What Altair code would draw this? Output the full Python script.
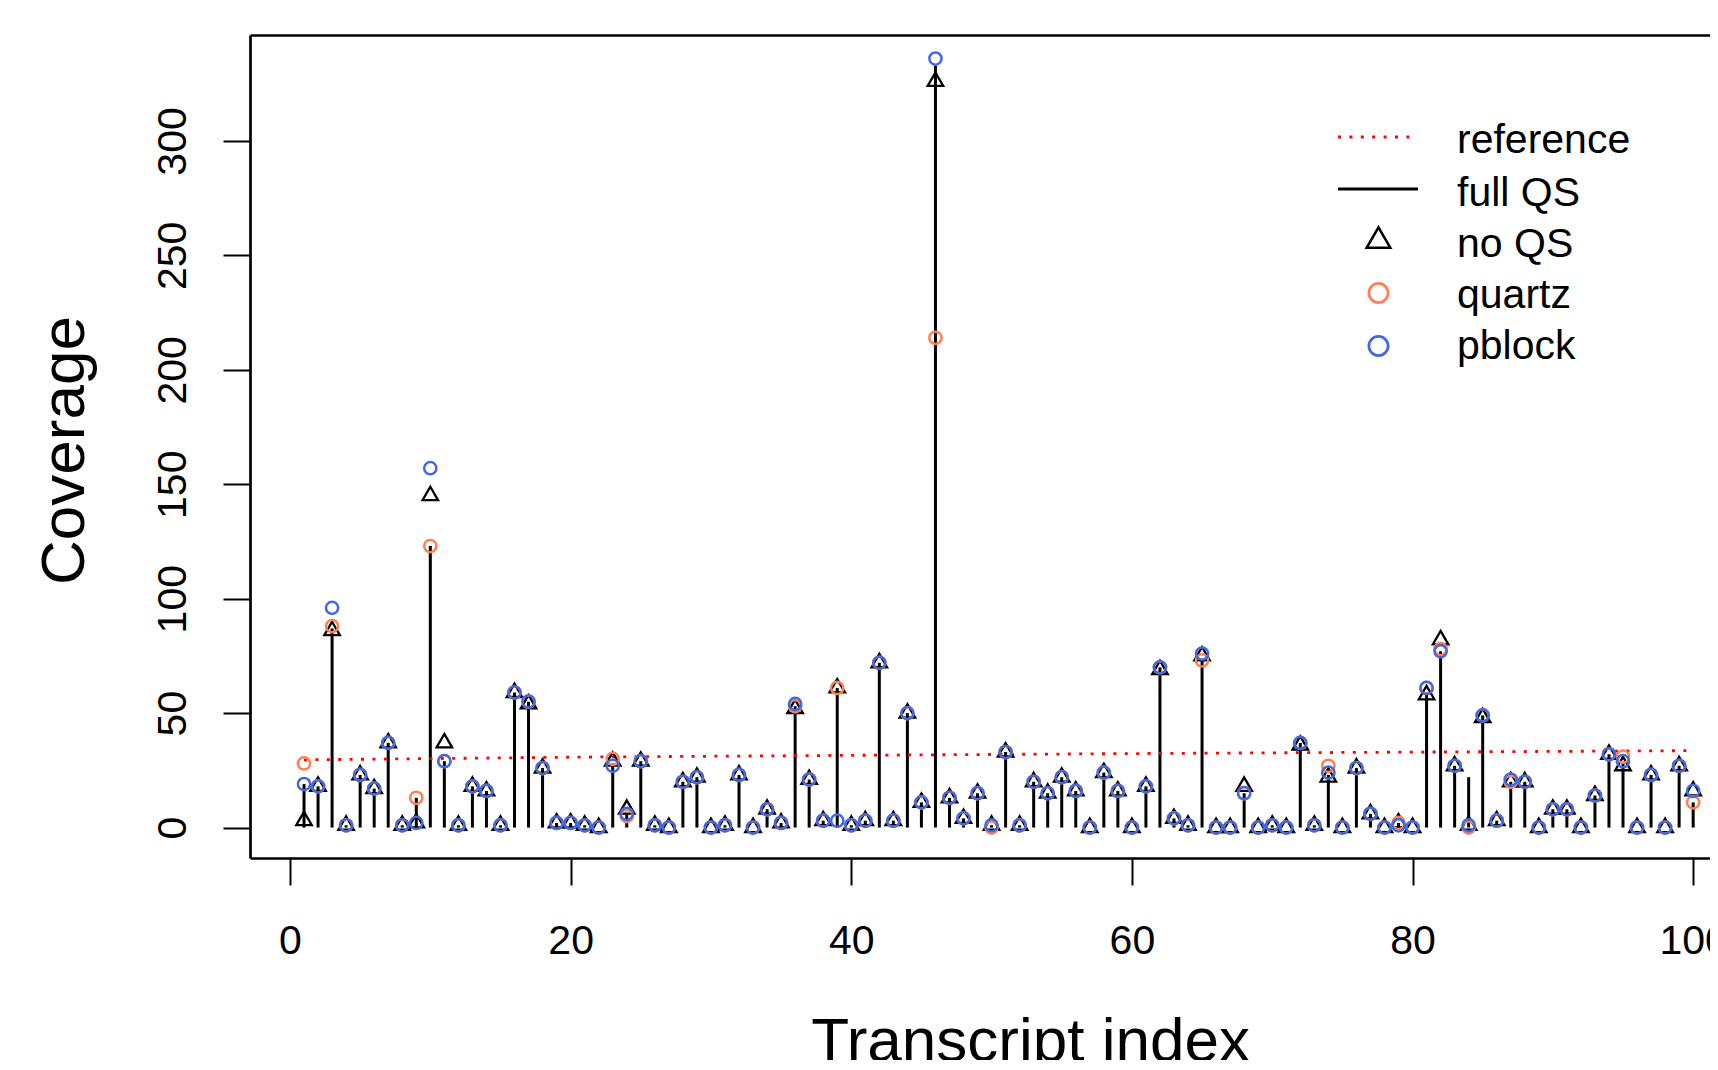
import altair as alt
import pandas as pd

# ---------------- data ----------------
transcript_index = list(range(1, 101))

full_qs = [19, 18, 87, 1, 23, 17, 37, 1, 13, 123,
           29, 1, 18, 16, 1, 59, 55, 26, 2, 2,
           1, 0, 28, 6, 29, 1, 0, 20, 22, 0,
           1, 23, 0, 8, 2, 53, 21, 3, 61, 1,
           3, 72, 3, 50, 11, 333, 13, 4, 15, 1,
           33, 1, 20, 15, 22, 16, 0, 24, 16, 0,
           18, 70, 4, 1, 73, 0, 0, 15, 0, 1,
           0, 37, 1, 23, 0, 26, 6, 0, 2, 0,
           59, 77, 27, 22, 49, 3, 20, 20, 0, 8,
           8, 0, 14, 32, 28, 0, 23, 0, 27, 11]

no_qs = [3, 18, 86, 1, 23, 17, 37, 1, 2, 145,
         37, 1, 18, 16, 1, 59, 54, 26, 2, 2,
         1, 0, 29, 8, 29, 1, 0, 20, 22, 0,
         1, 23, 0, 8, 2, 52, 21, 3, 61, 1,
         3, 72, 3, 50, 11, 326, 13, 4, 15, 1,
         33, 1, 20, 15, 22, 16, 0, 24, 16, 0,
         18, 69, 4, 1, 75, 0, 0, 18, 0, 1,
         0, 36, 1, 22, 0, 26, 6, 0, 2, 0,
         58, 82, 27, 1, 48, 3, 20, 20, 0, 8,
         8, 0, 14, 32, 27, 0, 23, 0, 27, 16]

quartz = [28, 18, 88, 1, 23, 17, 37, 1, 13, 123,
          29, 1, 18, 16, 1, 59, 55, 26, 2, 2,
          1, 0, 30, 5, 29, 1, 0, 20, 22, 0,
          1, 23, 0, 8, 2, 53, 21, 3, 61, 1,
          3, 72, 3, 50, 11, 214, 13, 4, 15, 0,
          33, 1, 20, 15, 22, 16, 0, 24, 16, 0,
          18, 70, 4, 1, 73, 0, 0, 15, 0, 1,
          0, 37, 1, 27, 0, 26, 6, 0, 2, 0,
          61, 78, 27, 0, 49, 3, 20, 20, 0, 8,
          8, 0, 14, 32, 31, 0, 23, 0, 27, 11]

pblock = [19, 18, 96, 1, 23, 17, 37, 1, 2, 157,
          29, 1, 18, 16, 1, 59, 55, 26, 2, 2,
          1, 0, 27, 6, 29, 1, 0, 20, 22, 0,
          1, 23, 0, 8, 2, 54, 21, 3, 3, 1,
          3, 72, 3, 50, 11, 336, 13, 4, 15, 1,
          33, 1, 20, 15, 22, 16, 0, 24, 16, 0,
          18, 70, 4, 1, 76, 0, 0, 15, 0, 1,
          0, 37, 1, 24, 0, 26, 6, 0, 1, 0,
          61, 77, 27, 1, 49, 3, 21, 20, 0, 8,
          8, 0, 14, 32, 29, 0, 23, 0, 27, 16]

reference_index = [1, 21, 41, 62, 100]
reference_values = [29.6, 30.8, 31.6, 32.4, 33.6]

x_ticks = [0, 20, 40, 60, 80, 100]
y_ticks = [0, 50, 100, 150, 200, 250, 300]
legend_labels = ["reference", "full QS", "no QS", "quartz", "pblock"]

# ---------------- styling ----------------
FONT = "Liberation Sans"
ORANGE = "#FF7F50"
BLUE = "#4169E1"
TRI = "M0,-1.1547L1,0.5774L-1,0.5774Z"

df = pd.DataFrame({"idx": transcript_index, "full": full_qs, "noqs": no_qs,
                   "quartz": quartz, "pblock": pblock})
ref_df = pd.DataFrame({"idx": reference_index, "ref": reference_values})
one = pd.DataFrame({"k": [0]})

xscale = alt.Scale(domain=[-2.85, 101.2], nice=False, zero=False)
yscale = alt.Scale(domain=[-13.3, 346.3], nice=False, zero=False)

x_axis = alt.Axis(values=x_ticks, format="d", title="Transcript index",
                  labelFontSize=41, labelFont=FONT, labelColor="black",
                  labelBaseline="alphabetic", labelPadding=68, labelFlush=False,
                  labelOverlap=False, labelBound=False,
                  tickSize=27, tickWidth=2, tickColor="black",
                  domainWidth=2.7, domainColor="black",
                  titleFontSize=62, titleFont=FONT, titleFontWeight="normal",
                  titleColor="black", titleX=780, titleY=202,
                  titleAlign="center", titleBaseline="alphabetic", grid=False)

y_axis = alt.Axis(values=y_ticks, format="d", title="Coverage",
                  labelFontSize=41, labelFont=FONT, labelColor="black",
                  labelAngle=270, labelAlign="center", labelBaseline="alphabetic",
                  labelPadding=38, labelOverlap=False, labelBound=False,
                  labelFlush=False,
                  tickSize=27, tickWidth=2, tickColor="black",
                  domainWidth=2.7, domainColor="black",
                  titleFontSize=62, titleFont=FONT, titleFontWeight="normal",
                  titleColor="black", titleAngle=270, titleX=-167, titleY=415,
                  titleAlign="center", titleBaseline="alphabetic", grid=False)

top_axis = alt.Axis(orient="top", ticks=False, labels=False, title=None,
                    domainWidth=2.7, domainColor="black", grid=False)

stems = alt.Chart(df).mark_rule(color="black", strokeWidth=3).encode(
    x=alt.X("idx:Q", scale=xscale, axis=x_axis),
    y=alt.Y("full:Q", scale=yscale, axis=y_axis),
    y2=alt.datum(0),
)

ref_line = alt.Chart(ref_df).mark_line(color="red", strokeWidth=2.8,
                                       strokeDash=[3, 8.4]).encode(
    x=alt.X("idx:Q", scale=xscale, axis=top_axis),
    y=alt.Y("ref:Q", scale=yscale, axis=None),
)

tri = alt.Chart(df).mark_point(shape=TRI, filled=False, color="black",
                               size=240, strokeWidth=2.3, opacity=1).encode(
    x=alt.X("idx:Q", scale=xscale, axis=None),
    y=alt.Y("noqs:Q", scale=yscale, axis=None),
)

orange_pts = alt.Chart(df).mark_point(shape="circle", filled=False, color=ORANGE,
                                      size=150, strokeWidth=2.5, opacity=1).encode(
    x=alt.X("idx:Q", scale=xscale, axis=None),
    y=alt.Y("quartz:Q", scale=yscale, axis=None),
)

blue_pts = alt.Chart(df).mark_point(shape="circle", filled=False, color=BLUE,
                                    size=150, strokeWidth=2.5, opacity=1).encode(
    x=alt.X("idx:Q", scale=xscale, axis=None),
    y=alt.Y("pblock:Q", scale=yscale, axis=None),
)

# ---------------- legend (drawn manually, R style) ----------------
LX_TEXT = 1207
LX_SYM = 1128.5
text_y = [118, 171, 222, 273, 324]
sym_y = [102, 154, 206, 258, 311]

legend_layers = []
for lab, ty in zip(legend_labels, text_y):
    legend_layers.append(
        alt.Chart(one).mark_text(align="left", baseline="alphabetic", fontSize=41,
                                 font=FONT, color="black").encode(
            x=alt.value(LX_TEXT), y=alt.value(ty), text=alt.value(lab))
    )

legend_layers.append(
    alt.Chart(one).mark_rule(color="red", strokeWidth=2.8, strokeDash=[3, 8.4]).encode(
        x=alt.value(1088), x2=alt.value(1160), y=alt.value(sym_y[0]))
)
legend_layers.append(
    alt.Chart(one).mark_rule(color="black", strokeWidth=3).encode(
        x=alt.value(1088), x2=alt.value(1168), y=alt.value(sym_y[1]))
)
legend_layers.append(
    alt.Chart(one).mark_point(shape=TRI, filled=False, color="black", size=560,
                              strokeWidth=2.5, opacity=1).encode(
        x=alt.value(LX_SYM), y=alt.value(sym_y[2]))
)
legend_layers.append(
    alt.Chart(one).mark_point(shape="circle", filled=False, color=ORANGE, size=370,
                              strokeWidth=2.7, opacity=1).encode(
        x=alt.value(LX_SYM), y=alt.value(sym_y[3]))
)
legend_layers.append(
    alt.Chart(one).mark_point(shape="circle", filled=False, color=BLUE, size=370,
                              strokeWidth=2.7, opacity=1).encode(
        x=alt.value(LX_SYM), y=alt.value(sym_y[4]))
)

chart = alt.layer(stems, ref_line, tri, orange_pts, blue_pts, *legend_layers).resolve_axis(
    x="independent", y="independent"
).properties(
    width=1460, height=823,
    autosize=alt.AutoSizeParams(type="none"),
    padding={"left": 242, "top": 27, "right": 0, "bottom": 202},
    background="white",
).configure_view(stroke=None).configure_axis(grid=False)

chart.save("out.html", embed_options={"renderer": "svg", "actions": False})
